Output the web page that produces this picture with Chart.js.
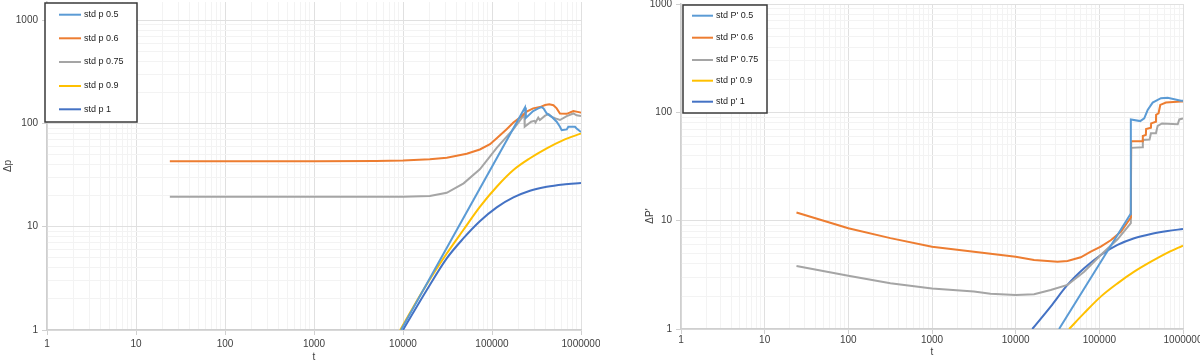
<!DOCTYPE html>
<html>
<head>
<meta charset="utf-8">
<script src="https://cdn.jsdelivr.net/npm/chart.js@4.4.0/dist/chart.umd.min.js"></script>
<style>
    html, body { margin: 0; padding: 0; background: #fff; }
    #wrap { position: relative; width: 1200px; height: 363px; }
    .box { position: absolute; top: 0; width: 600px; height: 363px; }
</style>
</head>
<body>
<div id="wrap">
    <div class="box" style="left:0"><canvas id="leftChart"></canvas></div>
    <div class="box" style="left:600px"><canvas id="rightChart"></canvas></div>
</div>
<script>
// ---- left chart: delta p vs t ----
var leftLabels = ['std p 0.5', 'std p 0.6', 'std p 0.75', 'std p 0.9', 'std p 1'];

var leftT05 = [9500, 235000, 240000, 290000, 331000, 360000, 380000, 412000, 468000, 533000, 580000, 607000, 692000, 720000, 857000, 893000, 975000, 1000000];
var leftP05 = [1, 143, 113, 132, 140, 144, 140, 125, 116, 104, 93, 86, 87.5, 93, 93, 89.5, 84, 83];

var leftT06 = [24, 1000, 5000, 10000, 20000, 31000, 52000, 73000, 95000, 113000, 146000, 174000, 206000, 245000, 290000, 346000, 395000, 440000, 490000, 533000, 580000, 692000, 820000, 975000, 1000000];
var leftP06 = [43, 43, 43.3, 43.8, 45, 46.5, 51, 56, 63, 72, 88, 102, 114, 130, 140, 144, 151, 153, 150, 140, 125, 124, 132, 128, 127];

var leftT075 = [24, 1000, 10000, 20000, 31000, 48000, 73000, 113000, 174000, 231000, 233000, 275000, 300000, 308000, 331000, 345000, 395000, 433000, 470000, 517000, 580000, 692000, 820000, 893000, 1000000];
var leftP075 = [19.5, 19.5, 19.5, 19.8, 21.3, 26.3, 36, 58, 88, 122, 93, 104, 106, 102, 114, 108, 119, 123, 116, 112, 108, 118, 125, 120, 118];

var leftT09 = [9300, 16900, 31000, 47600, 73000, 113000, 174000, 267000, 412000, 632000, 1000000];
var leftP09 = [1, 2.44, 5.5, 9.3, 15.6, 24.4, 35.4, 46, 57.4, 69, 80];

var leftT1 = [10000, 18500, 31000, 47600, 73000, 113000, 174000, 267000, 412000, 632000, 1000000];
var leftP1 = [1, 2.44, 4.94, 7.7, 11.3, 15.4, 19.2, 22.3, 24.4, 25.7, 26.5];

// ---- right chart: delta P' vs t ----
var rightLabels = ["std P' 0.5", "std P' 0.6", "std P' 0.75", "std p' 0.9", "std p' 1"];

var rightT05 = [33000, 236000, 238000, 308000, 344000, 378000, 434000, 545000, 656000, 946000, 1000000];
var rightP05 = [1, 11.5, 86, 83, 88, 105, 123, 135, 136, 128, 128];

var rightT06 = [24, 100, 318, 1000, 3170, 10000, 16600, 31600, 41600, 60000, 79000, 104000, 137000, 181000, 238000, 240000, 329000, 331000, 360000, 362000, 414000, 416000, 475000, 477000, 510000, 535000, 625000, 946000, 1000000];
var rightP06 = [11.9, 8.5, 6.9, 5.75, 5.17, 4.65, 4.34, 4.18, 4.24, 4.59, 5.17, 5.75, 6.6, 7.9, 10.7, 54, 54, 60.5, 62, 70, 72, 79, 82, 95, 98, 117, 123, 126, 126];

var rightT075 = [24, 100, 318, 1000, 3170, 5000, 10000, 16600, 26200, 41600, 65800, 104000, 165000, 238000, 240000, 329000, 331000, 398000, 414000, 475000, 498000, 561000, 865000, 904000, 1000000];
var rightP075 = [3.82, 3.1, 2.64, 2.37, 2.22, 2.12, 2.06, 2.09, 2.29, 2.55, 3.38, 4.82, 6.73, 9.5, 47, 47.6, 55.6, 56, 64, 64, 75, 79, 77.5, 86, 88];

var rightT09 = [43500, 65800, 104000, 165000, 261000, 414000, 656000, 1000000];
var rightP09 = [1, 1.4, 1.99, 2.64, 3.38, 4.18, 5.07, 5.88];

var rightT1 = [15800, 26200, 41600, 65800, 104000, 165000, 261000, 414000, 656000, 1000000];
var rightP1 = [1, 1.61, 2.55, 3.63, 4.82, 5.97, 6.88, 7.54, 8.03, 8.38];

var seriesColors = ['#5B9BD5', '#ED7D31', '#A5A5A5', '#FFC000', '#4472C4'];
var smoothSeries = [false, false, false, true, true];
var FONT = '"Liberation Sans", Arial, sans-serif';

function pairs(ts, vs) {
    return ts.map(function (t, i) { return { x: t, y: vs[i] }; });
}

function isPow10(v) {
    var l = Math.log10(v);
    return Math.abs(l - Math.round(l)) < 1e-9;
}

// 1..9 x 10^e for every decade, like excel minor gridlines
function logTicks(lo, hi) {
    var out = [];
    for (var e = lo; e < hi; e++) {
        for (var m = 1; m < 10; m++) out.push({ value: m * Math.pow(10, e) });
    }
    out.push({ value: Math.pow(10, hi) });
    return out;
}

function gridColor(ctx) {
    return ctx.tick && isPow10(ctx.tick.value) ? '#e0e0e0' : '#f3f3f3';
}
function tickColor(ctx) {
    return ctx.tick && isPow10(ctx.tick.value) ? '#d0d0d0' : 'rgba(0,0,0,0)';
}

function makeDatasets(labels, tList, vList) {
    return labels.map(function (lab, i) {
        return {
            label: lab,
            data: pairs(tList[i], vList[i]),
            borderColor: seriesColors[i],
            backgroundColor: seriesColors[i],
            borderWidth: 2,
            pointRadius: 0,
            fill: false,
            cubicInterpolationMode: smoothSeries[i] ? 'monotone' : 'default',
            tension: 0
        };
    });
}

// legend box drawn inside the plot like the excel one
var boxLegend = {
    id: 'boxLegend',
    afterDraw: function (chart, args, o) {
        var ctx = chart.ctx;
        ctx.save();
        ctx.fillStyle = '#fff';
        ctx.fillRect(o.box[0], o.box[1], o.box[2], o.box[3]);
        ctx.strokeStyle = '#3a3a3a';
        ctx.lineWidth = 1.5;
        ctx.strokeRect(o.box[0], o.box[1], o.box[2], o.box[3]);
        ctx.font = '9px ' + FONT;
        ctx.textBaseline = 'middle';
        ctx.textAlign = 'left';
        chart.data.datasets.forEach(function (ds, i) {
            var y = o.rows[i];
            ctx.strokeStyle = ds.borderColor;
            ctx.lineWidth = 2;
            ctx.beginPath();
            ctx.moveTo(o.line[0], y);
            ctx.lineTo(o.line[1], y);
            ctx.stroke();
            ctx.fillStyle = '#222';
            ctx.fillText(ds.label, o.textX, y);
        });
        ctx.restore();
    }
};

var axisTitles = {
    id: 'axisTitles',
    afterDraw: function (chart, args, o) {
        var ctx = chart.ctx;
        ctx.save();
        ctx.fillStyle = '#404040';
        ctx.font = '10px ' + FONT;
        ctx.textAlign = 'center';
        ctx.textBaseline = 'middle';
        ctx.fillText(o.xText, o.xPos[0], o.xPos[1]);
        ctx.translate(o.yPos[0], o.yPos[1]);
        ctx.rotate(-Math.PI / 2);
        ctx.fillText(o.yText, 0, 0);
        ctx.restore();
    }
};

function buildOptions(cfg) {
    return {
        responsive: true,
        maintainAspectRatio: false,
        animation: false,
        devicePixelRatio: 1,
        layout: { padding: { left: 0, right: cfg.padRight, top: cfg.padTop, bottom: 0 } },
        plugins: {
            legend: { display: false },
            tooltip: { enabled: false },
            boxLegend: cfg.legend,
            axisTitles: cfg.titles
        },
        scales: {
            x: {
                type: 'logarithmic',
                min: 1,
                max: 1000000,
                afterBuildTicks: function (s) { s.ticks = logTicks(0, 6); },
                afterFit: function (s) { s.height = cfg.xHeight; s.paddingLeft = 0; s.paddingRight = 0; },
                ticks: {
                    autoSkip: false, maxRotation: 0, minRotation: 0,
                    padding: cfg.xPad, color: '#404040',
                    font: { family: FONT, size: 10 },
                    callback: function (v) { return isPow10(v) ? String(v) : ''; }
                },
                grid: { color: gridColor, tickColor: tickColor, tickLength: 5, lineWidth: 1 },
                border: { color: '#cfcfcf', width: 1.5 }
            },
            y: {
                type: 'logarithmic',
                min: 1,
                max: cfg.yMax,
                afterBuildTicks: function (s) { s.ticks = logTicks(0, 3); },
                afterFit: function (s) { s.width = cfg.yWidth; s.paddingTop = 0; s.paddingBottom = 0; },
                ticks: {
                    autoSkip: false, padding: 4, color: '#404040',
                    font: { family: FONT, size: 10 },
                    callback: function (v) { return isPow10(v) ? String(v) : ''; }
                },
                grid: { color: gridColor, tickColor: tickColor, tickLength: 5, lineWidth: 1 },
                border: { color: '#cfcfcf', width: 1.5 }
            }
        }
    };
}

new Chart(document.getElementById('leftChart'), {
    type: 'line',
    data: {
        datasets: makeDatasets(leftLabels,
            [leftT05, leftT06, leftT075, leftT09, leftT1],
            [leftP05, leftP06, leftP075, leftP09, leftP1])
    },
    options: buildOptions({
        padRight: 19, padTop: 2, yMax: 1500, yWidth: 47, xHeight: 33, xPad: 3,
        legend: { box: [45, 3, 92, 119], line: [59, 81], textX: 84, rows: [14.7, 38.3, 62, 86, 109.3] },
        titles: { xText: 't', xPos: [314, 357], yText: '\u0394p', yPos: [8, 166] }
    }),
    plugins: [boxLegend, axisTitles]
});

new Chart(document.getElementById('rightChart'), {
    type: 'line',
    data: {
        datasets: makeDatasets(rightLabels,
            [rightT05, rightT06, rightT075, rightT09, rightT1],
            [rightP05, rightP06, rightP075, rightP09, rightP1])
    },
    options: buildOptions({
        padRight: 17, padTop: 4, yMax: 1000, yWidth: 81, xHeight: 34, xPad: 0,
        legend: { box: [83, 5, 84, 108], line: [92, 113], textX: 116, rows: [15.7, 37.7, 60, 80.7, 101.7] },
        titles: { xText: 't', xPos: [332, 352], yText: "\u0394P'", yPos: [50, 216] }
    }),
    plugins: [boxLegend, axisTitles]
});
</script>
</body>
</html>
